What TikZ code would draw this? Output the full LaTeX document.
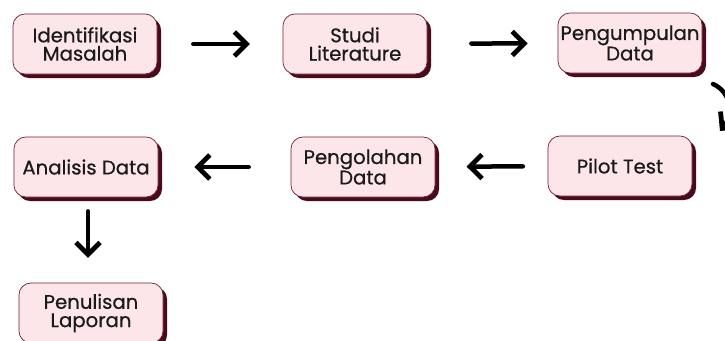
\documentclass[tikz,border=0pt]{standalone}
\usepackage{fontspec}
\setmainfont{Poppins}[FakeBold=0.6]
\usetikzlibrary{arrows.meta,shadows}

\definecolor{boxfill}{HTML}{FCE6EA}
\definecolor{boxline}{HTML}{6B2436}
\definecolor{boxshade}{HTML}{4A0A1C}
\definecolor{ink}{HTML}{1A1A1A}

\begin{document}
\begin{tikzpicture}[x=0.025cm, y=-0.025cm,
    stage/.style = {draw=boxline, line width=.5pt, fill=boxfill, rounded corners=.3cm,
                    minimum width=3.6cm, minimum height=1.5cm, inner sep=0pt,
                    align=center, text=ink, font=\fontsize{14}{13}\selectfont,
                    drop shadow={shadow xshift=.1cm, shadow yshift=-.1cm, fill=boxshade, opacity=1}},
    flow/.style  = {line width=3.2pt, line cap=round, line join=round,
                    -{Straight Barb[length=3mm,width=6mm,line width=3.4pt]}}]
    \useasboundingbox (0, 0) rectangle (725, 341);
    \clip (0, 0) rectangle (725, 341);

    % top row
    \node [stage] (ident) at (85, 44) {Identifikasi\\Masalah};
    \node [stage] (studi) at (355, 44) {Studi\\Literature};
    \node [stage] (kumpul) at (630, 43) {Pengumpulan\\Data};

    % middle row
    \node [stage] (pilot) at (620, 166) {Pilot Test};
    \node [stage] (olah) at (363, 167) {Pengolahan\\Data};
    \node [stage] (anal) at (86, 167) {Analisis Data};

    % bottom
    \node [stage] (lapor) at (91, 313) {Penulisan\\Laporan};

    \draw [flow, shorten <= .9cm, shorten >= .82cm] (ident) -- (studi);
    \draw [flow, shorten <= 1.1cm, shorten >= .75cm] (studi) -- (kumpul);
    \draw [flow, shorten <= .62cm, shorten >= .78cm] (pilot) -- (olah);
    \draw [flow, shorten <= 1.05cm, shorten >= .9cm] (olah) -- (anal);
    \draw [flow, shorten <= .35cm, shorten >= .62cm] (anal.south -| 88, 0) -- (lapor.north -| 88, 0);

    % curved turn at the right edge
    \coordinate (turnA) at (713, 84);
    \coordinate (turnB) at (720, 131);
    \draw [flow] (turnA) .. controls (731, 92) and (734, 114) .. (turnB);
\end{tikzpicture}
\end{document}
